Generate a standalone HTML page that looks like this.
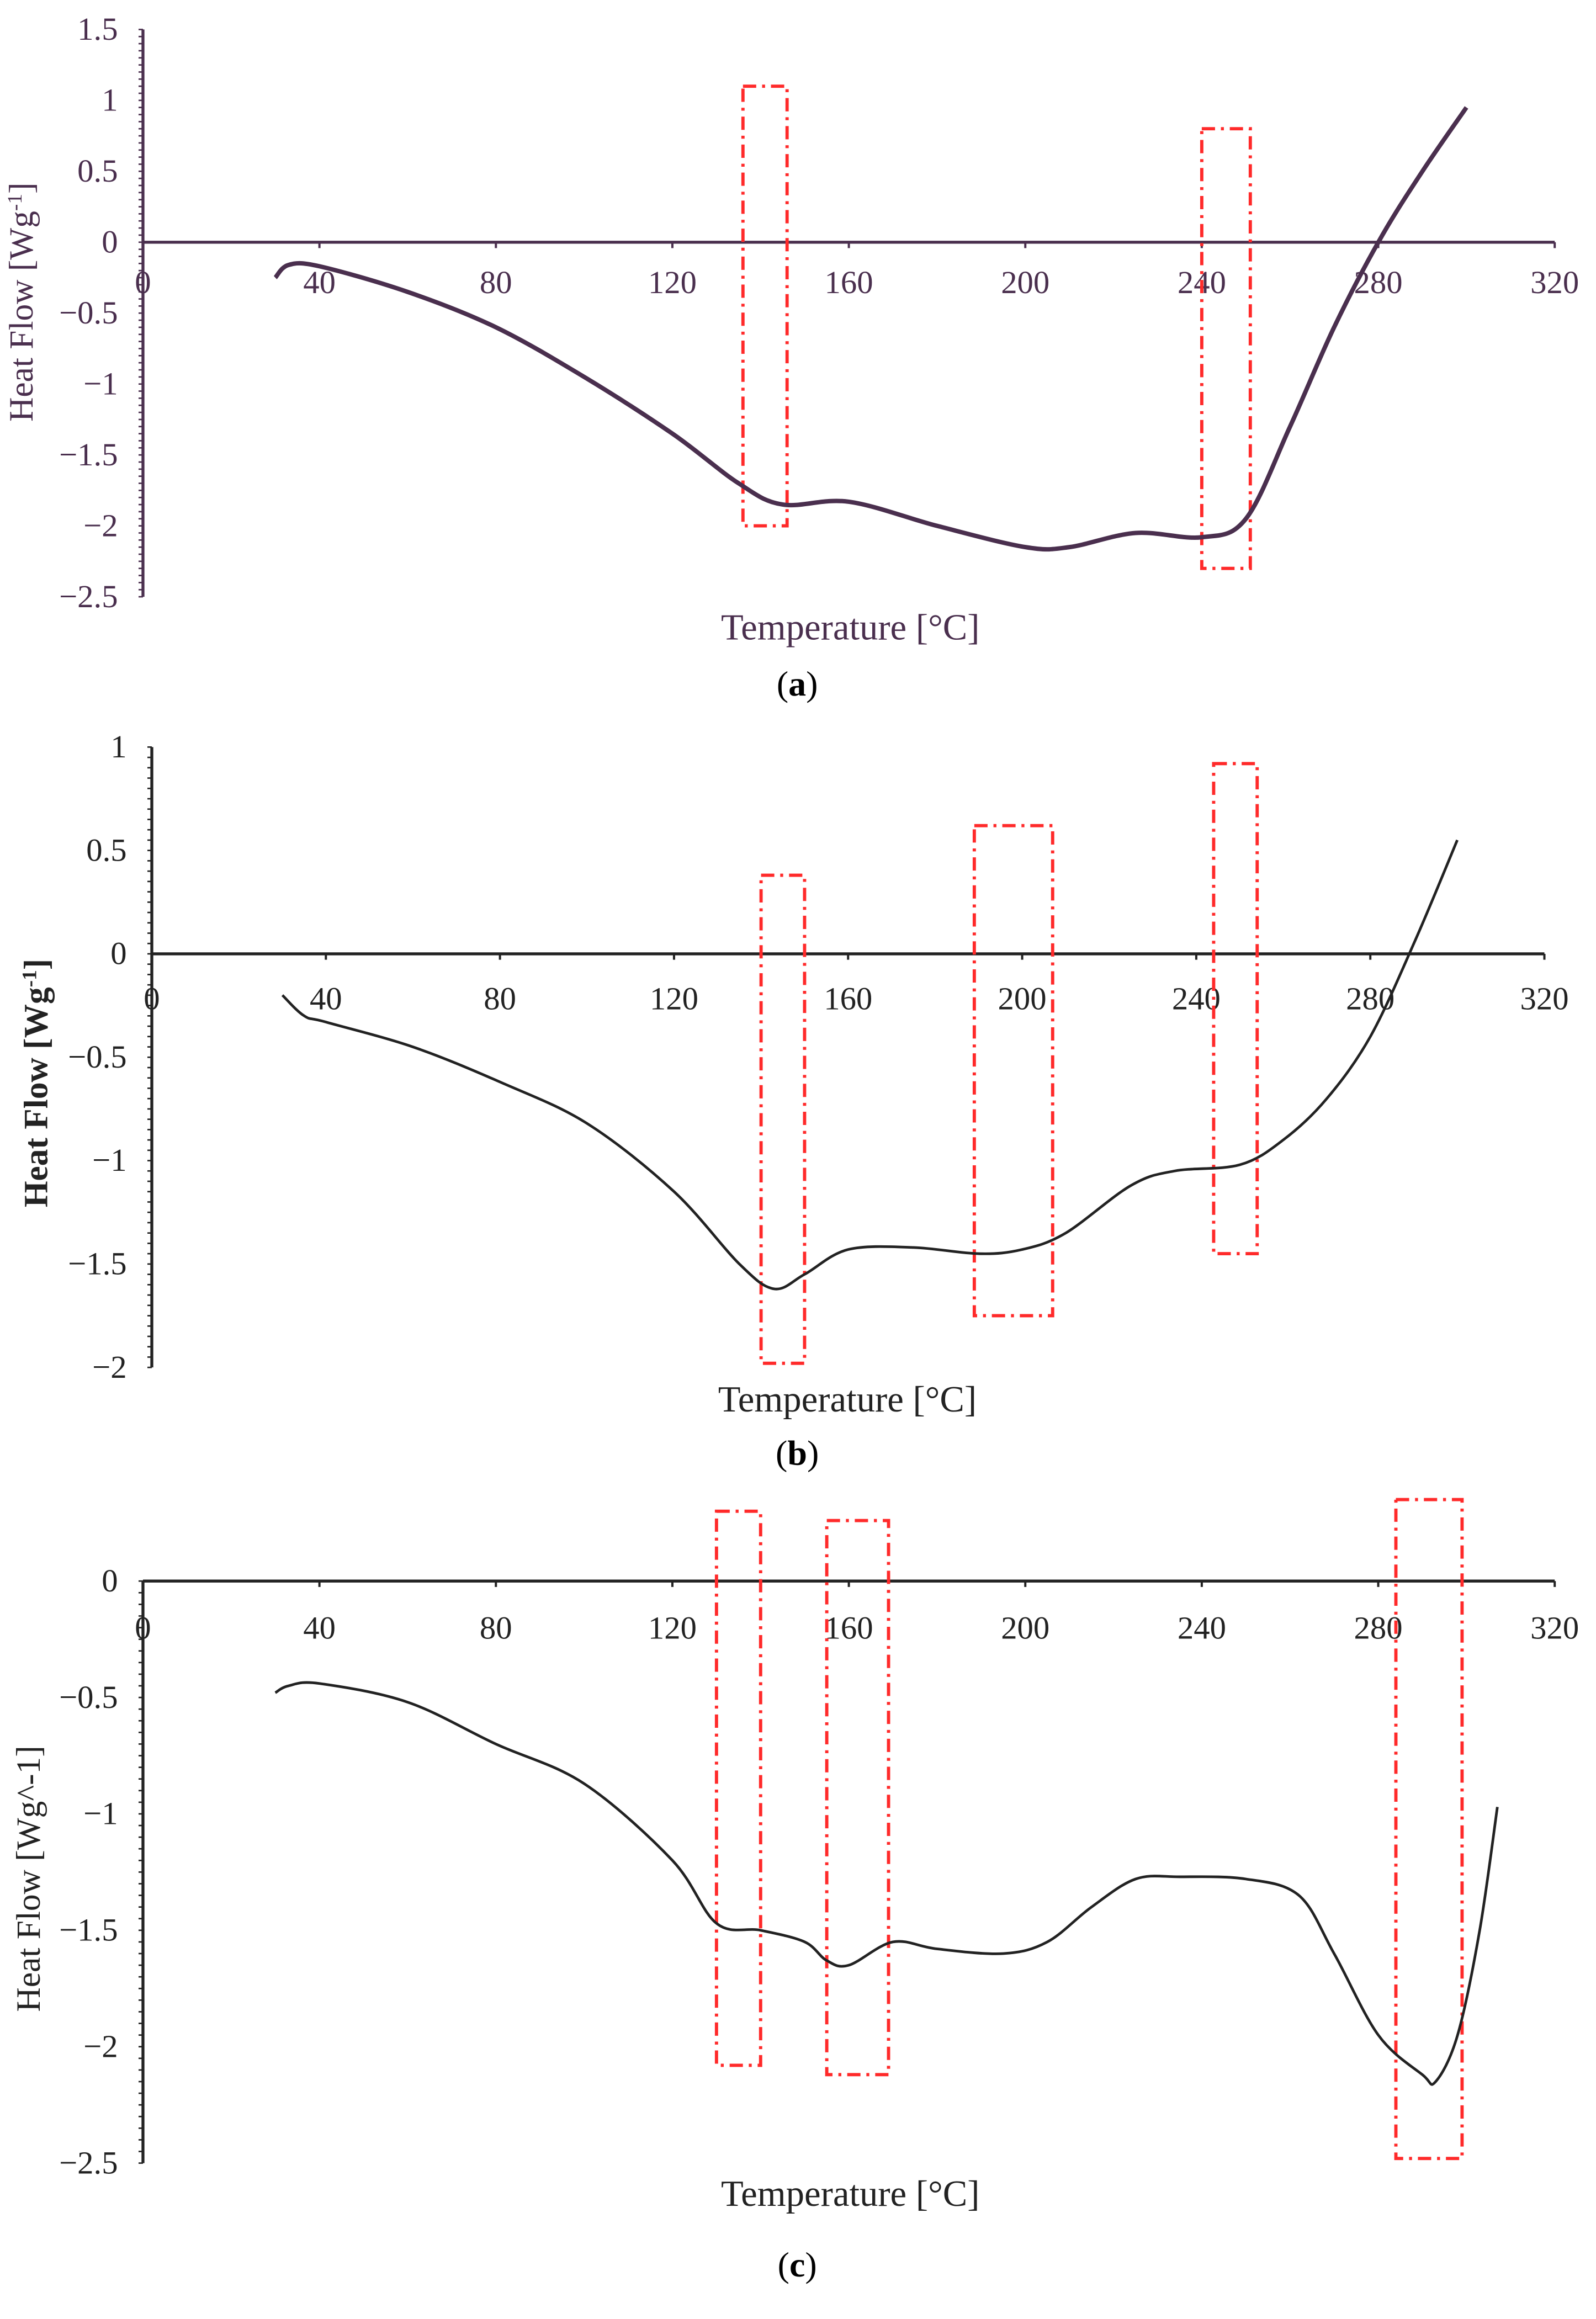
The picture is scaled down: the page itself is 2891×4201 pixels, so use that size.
<!DOCTYPE html>
<html><head><meta charset="utf-8">
<style>
html,body{margin:0;padding:0;background:#fff;}
svg{display:block;}
text{font-family:"Liberation Serif",serif;}
</style></head>
<body>
<svg id="fig" width="2891" height="4201" viewBox="0 0 1083 1573.8" xmlns="http://www.w3.org/2000/svg"></svg>
<script>
// ---- Panel (a) data ----
const xTicks = [0,40,80,120,160,200,240,280,320];
const aYTicks = [1.5,1,0.5,0,-0.5,-1,-1.5,-2,-2.5];
const aTemp = [30,33,40,60,80,100,120,135,145,160,180,200,210,225,240,250,260,270,280,290,300];
const aFlow = [-0.25,-0.16,-0.17,-0.35,-0.6,-0.95,-1.35,-1.7,-1.85,-1.83,-2.0,-2.15,-2.15,-2.05,-2.08,-1.95,-1.3,-0.6,0,0.5,0.95];
const aBoxX = [[136,146],[240,251]];
const aBoxY = [[1.1,-2.0],[0.8,-2.3]];
// ---- Panel (b) data ----
const bYTicks = [1,0.5,0,-0.5,-1,-1.5,-2];
const bTemp = [30,35,40,60,80,100,120,135,143,150,160,175,190,200,210,225,235,250,260,270,280,290,300];
const bFlow = [-0.2,-0.3,-0.33,-0.45,-0.62,-0.82,-1.15,-1.5,-1.62,-1.55,-1.43,-1.42,-1.45,-1.43,-1.35,-1.12,-1.05,-1.02,-0.9,-0.7,-0.4,0.05,0.55];
const bBoxX = [[140,150],[189,207],[244,254]];
const bBoxY = [[0.38,-1.98],[0.62,-1.75],[0.92,-1.45]];
// ---- Panel (c) data ----
const cYTicks = [0,-0.5,-1,-1.5,-2,-2.5];
const cTemp = [30,33,40,60,80,100,120,130,140,150,155,160,170,180,195,205,215,225,235,250,262,270,280,290,293,298,303,307];
const cFlow = [-0.48,-0.45,-0.44,-0.52,-0.7,-0.87,-1.2,-1.47,-1.5,-1.55,-1.63,-1.65,-1.55,-1.58,-1.6,-1.55,-1.4,-1.28,-1.27,-1.28,-1.35,-1.6,-1.95,-2.12,-2.15,-1.95,-1.5,-0.97];
const cBoxX = [[130,140],[155,169],[284,299]];
const cBoxY = [[0.3,-2.08],[0.26,-2.12],[0.35,-2.48]];

const NS="http://www.w3.org/2000/svg";
const svg=document.getElementById('fig');
function mk(tag,attrs,parent){const e=document.createElementNS(NS,tag);for(const k in attrs)e.setAttribute(k,attrs[k]);(parent||svg).appendChild(e);return e;}
function smooth(pts){
 let d='M'+pts[0][0].toFixed(1)+','+pts[0][1].toFixed(1);
 for(let i=0;i<pts.length-1;i++){
  const p0=pts[Math.max(0,i-1)],p1=pts[i],p2=pts[i+1],p3=pts[Math.min(pts.length-1,i+2)];
  const c1=[p1[0]+(p2[0]-p0[0])/6,p1[1]+(p2[1]-p0[1])/6];
  const c2=[p2[0]-(p3[0]-p1[0])/6,p2[1]-(p3[1]-p1[1])/6];
  d+='C'+c1[0].toFixed(1)+','+c1[1].toFixed(1)+' '+c2[0].toFixed(1)+','+c2[1].toFixed(1)+' '+p2[0].toFixed(1)+','+p2[1].toFixed(1);
 }
 return d;
}

const panels=[
 {id:'a',x0:97,x1:1055,yTop:20,yBot:405,vTop:1.5,vBot:-2.5,yt:aYTicks,t:aTemp,f:aFlow,bx:aBoxX,by:aBoxY,col:'#4a2f4e',lab:199,
  yt1:'Heat Flow [Wg',ytx:22,yty:205,xt:[577,434],cap:[541,472],capL:'a',tcol:'#4a2f4e'},
 {id:'b',x0:103,x1:1048,yTop:507,yBot:928,vTop:1,vBot:-2,yt:bYTicks,t:bTemp,f:bFlow,bx:bBoxX,by:bBoxY,col:'#222',lab:685,
  yt1:'Heat Flow [Wg',ytx:32,yty:735,xt:[575,958],cap:[541,994],capL:'b',tcol:'#222'},
 {id:'c',x0:97,x1:1055,yTop:1073,yBot:1468,vTop:0,vBot:-2.5,yt:cYTicks,t:cTemp,f:cFlow,bx:cBoxX,by:cBoxY,col:'#222',lab:1112,
  yt1:'Heat Flow [Wg^-1]',ytx:27,yty:1275,xt:[577,1497],cap:[541,1545],capL:'c',tcol:'#222'}
];

panels.forEach(p=>{
 const g=mk('g',{});
 
 
 const X=v=>p.x0+(v-0)*(p.x1-p.x0)/320;
 const Y=v=>p.yTop+(p.vTop-v)*(p.yBot-p.yTop)/(p.vTop-p.vBot);
 const ya=mk('line',{x1:p.x0,y1:p.yTop,x2:p.x0,y2:p.yBot,stroke:p.tcol,'stroke-width':2},g);
 
 
 const n=Math.round((p.vTop-p.vBot)/0.05);
 for(let i=0;i<=n;i++){const yy=p.yTop+i*(p.yBot-p.yTop)/n;mk('line',{x1:p.x0-3,y1:yy,x2:p.x0,y2:yy,stroke:p.tcol,'stroke-width':1},g);}
 const xa=mk('line',{x1:p.x0,y1:Y(0),x2:p.x1,y2:Y(0),stroke:p.tcol,'stroke-width':2},g);
 
 
 xTicks.forEach(v=>{
  mk('line',{x1:X(v),y1:Y(0),x2:X(v),y2:Y(0)+4,stroke:p.tcol,'stroke-width':1.5},g);
  const t=mk('text',{x:X(v),y:p.lab,'font-size':22,'text-anchor':'middle',fill:p.tcol},g);
  t.textContent=v;
  
  
 });
 p.yt.forEach(v=>{
  const t=mk('text',{x:p.x0-17,y:Y(v)+7,'font-size':22,'text-anchor':'end',fill:p.tcol},g);
  t.textContent=(v<0?'\u2212'+String(-v):String(v));
  
  
 });
 p.bx.forEach((bx,i)=>{
  const r=mk('rect',{x:X(bx[0]),y:Y(p.by[i][0]),width:X(bx[1])-X(bx[0]),height:Y(p.by[i][1])-Y(p.by[i][0]),fill:'none',stroke:'#ff2a2a','stroke-width':2.2,'stroke-dasharray':'9,4,2,4'},g);
  
  
 });
 const pts=p.t.map((v,i)=>[X(v),Y(p.f[i])]);
 const c=mk('path',{d:smooth(pts),fill:'none',stroke:p.col,'stroke-width':p.id==='a'?3:1.8,'stroke-linejoin':'round'},g);
 
 
 const yt=mk('text',{x:p.ytx,y:p.yty,'font-size':23,'text-anchor':'middle',fill:p.tcol,'font-weight':p.id==='b'?'bold':'normal',transform:'rotate(-90 '+p.ytx+' '+p.yty+')'},g);
 if(p.id==='c'){yt.textContent=p.yt1;}
 else{yt.textContent=p.yt1;const s=mk('tspan',{'baseline-shift':'super','font-size':14},yt);s.textContent='-1';const s2=mk('tspan',{},yt);s2.textContent=']';}
 
 
 const xt=mk('text',{x:p.xt[0],y:p.xt[1],'font-size':25,'text-anchor':'middle',fill:p.tcol},g);
 xt.textContent='Temperature [\u00b0C]';
 
 
 const cap=mk('text',{x:p.cap[0],y:p.cap[1],'font-size':24,'text-anchor':'middle',fill:'#000'},g);
 cap.textContent='(';
 const cb=mk('tspan',{'font-weight':'bold'},cap);cb.textContent=p.capL;
 const ce=mk('tspan',{},cap);ce.textContent=')';
 
 
});
</script>
</body></html>
